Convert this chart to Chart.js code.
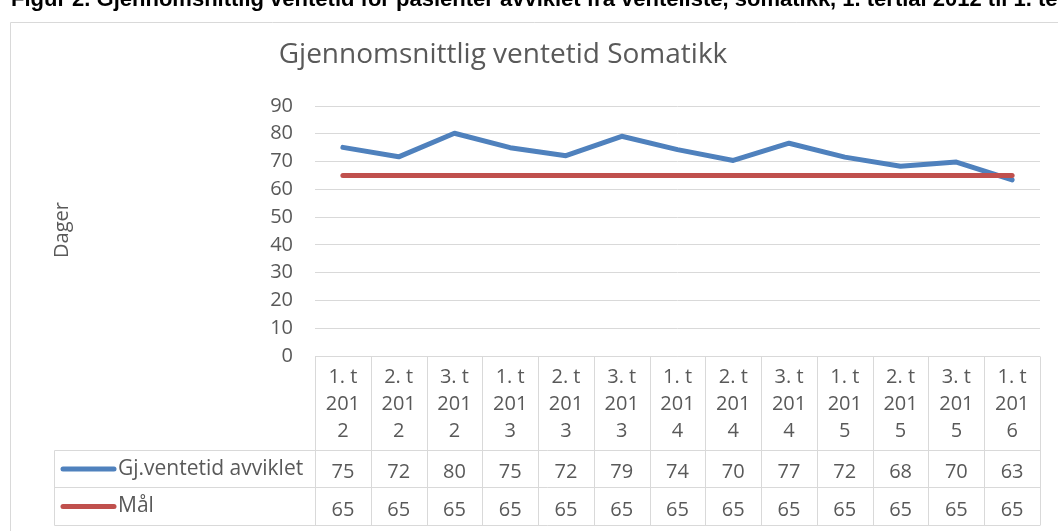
<!DOCTYPE html>
<html>
<head>
<meta charset="utf-8">
<script src="https://cdn.jsdelivr.net/npm/chart.js@4"></script>
<style>
  html, body { margin: 0; padding: 0; background: #fff; }
  #wrap { position: relative; width: 1058px; height: 531px; }
</style>
</head>
<body>
<div id="wrap"><canvas id="chart" width="1058" height="531"></canvas></div>
<script>
// chart data
const categories = ["1. t 2012", "2. t 2012", "3. t 2012", "1. t 2013", "2. t 2013", "3. t 2013",
  "1. t 2014", "2. t 2014", "3. t 2014", "1. t 2015", "2. t 2015", "3. t 2015", "1. t 2016"];
const ventetid = [75.1, 71.7, 80.2, 75.0, 72.1, 79.1, 74.3, 70.4, 76.6, 71.6, 68.3, 69.8, 63.4];
const maal = [65, 65, 65, 65, 65, 65, 65, 65, 65, 65, 65, 65, 65];
const seriesNames = ["Gj.ventetid avviklet", "Mål"];
const yMin = 0, yMax = 90, yStep = 10;

const caption = "Figur 2. Gjennomsnittlig ventetid for pasienter avviklet fra venteliste, somatikk, 1. tertial 2012 til 1. tertial 2016";
const title = "Gjennomsnittlig ventetid Somatikk";
const yTitle = "Dager";

const BLUE = "#4f81bd";
const RED = "#c0504d";
const GRID = "#d9d9d9";
const TEXT = "#595959";
const FONT = '"Open Sans", "Noto Sans", sans-serif';

// splits "1. t 2012" the way the narrow table cells wrap it
function wrapLabel(label) {
  const i = label.lastIndexOf(" ");
  const year = label.slice(i + 1);
  return [label.slice(0, i), year.slice(0, 3), year.slice(3)];
}

const frame = {
  id: "frame",
  beforeDraw(chart) {
    const ctx = chart.ctx;
    ctx.save();
    // outer chart border (cut by the page edge)
    ctx.strokeStyle = GRID;
    ctx.lineWidth = 1;
    ctx.beginPath();
    ctx.moveTo(10.5, 531);
    ctx.lineTo(10.5, 22.5);
    ctx.lineTo(1058, 22.5);
    ctx.stroke();

    // caption above the chart, mostly cut off
    ctx.fillStyle = "#000";
    ctx.font = 'bold 22px "Liberation Sans", Arial, sans-serif';
    ctx.textAlign = "left";
    ctx.textBaseline = "alphabetic";
    ctx.fillText(caption, 11, 6);

    // title
    ctx.fillStyle = TEXT;
    ctx.font = "28px " + FONT;
    ctx.textAlign = "center";
    ctx.fillText(title, 503, 63);

    // y axis title
    ctx.font = "20px " + FONT;
    ctx.translate(68, 230);
    ctx.rotate(-Math.PI / 2);
    ctx.textAlign = "center";
    ctx.fillText(yTitle, 0, 0);
    ctx.restore();
  }
};

const dataTable = {
  id: "dataTable",
  afterDraw(chart) {
    const ctx = chart.ctx;
    const area = chart.chartArea;
    const xs = chart.scales.x;
    const n = categories.length;
    const colW = (area.right - area.left) / n;
    const top = Math.round(area.bottom) + 0.5;
    const rowTops = [450.5, 487.5, 525.5];
    const legendLeft = 54.5;
    const rows = [ventetid, maal];
    const colors = [BLUE, RED];

    ctx.save();
    ctx.strokeStyle = GRID;
    ctx.lineWidth = 1;
    ctx.beginPath();
    // horizontal lines
    ctx.moveTo(area.left, top); ctx.lineTo(area.right, top);
    rowTops.forEach(y => { ctx.moveTo(legendLeft, y); ctx.lineTo(area.right, y); });
    // vertical lines
    for (let i = 0; i <= n; i++) {
      const x = Math.round(area.left + i * colW) + 0.5;
      ctx.moveTo(x, top); ctx.lineTo(x, rowTops[2]);
    }
    ctx.moveTo(legendLeft, rowTops[0]); ctx.lineTo(legendLeft, rowTops[2]);
    ctx.stroke();

    ctx.fillStyle = TEXT;
    ctx.font = "20px " + FONT;
    ctx.textAlign = "center";
    ctx.textBaseline = "alphabetic";
    const headBase = [383, 410, 437];
    categories.forEach((c, i) => {
      const cx = xs.getPixelForValue(i);
      wrapLabel(c).forEach((line, k) => ctx.fillText(line, cx, headBase[k]));
      rows.forEach((r, k) => {
        ctx.fillText(String(Math.round(r[i])), cx, k === 0 ? 478 : 516);
      });
    });

    // legend keys in the row headers
    ctx.font = "21px " + FONT;
    rows.forEach((r, k) => {
      const cy = (rowTops[k] + rowTops[k + 1]) / 2;
      ctx.strokeStyle = colors[k];
      ctx.lineWidth = 5;
      ctx.lineCap = "round";
      ctx.beginPath();
      ctx.moveTo(63, cy); ctx.lineTo(114, cy);
      ctx.stroke();
      ctx.textAlign = "left";
      ctx.textBaseline = "middle";
      ctx.fillText(seriesNames[k], 118, cy);
    });
    ctx.restore();
  }
};

const ctx = document.getElementById("chart").getContext("2d");
new Chart(ctx, {
  type: "line",
  data: {
    labels: categories,
    datasets: [
      {
        label: seriesNames[0],
        data: ventetid,
        borderColor: BLUE,
        borderWidth: 5,
        pointRadius: 0,
        tension: 0,
        borderJoinStyle: "round",
        borderCapStyle: "round",
        order: 1
      },
      {
        label: seriesNames[1],
        data: maal,
        borderColor: RED,
        borderWidth: 5,
        pointRadius: 0,
        tension: 0,
        borderJoinStyle: "round",
        borderCapStyle: "round",
        order: 0
      }
    ]
  },
  options: {
    responsive: false,
    animation: false,
    events: [],
    layout: { padding: { left: 0, right: 18, top: 106, bottom: 175 } },
    plugins: {
      legend: { display: false },
      tooltip: { enabled: false },
      title: { display: false }
    },
    scales: {
      x: {
        type: "category",
        offset: true,
        display: false
      },
      y: {
        min: yMin,
        max: yMax,
        afterFit(scale) { scale.width = 315; },
        border: { display: false },
        grid: { color: GRID, lineWidth: 1, drawTicks: false },
        ticks: {
          stepSize: yStep,
          padding: 22,
          color: TEXT,
          font: { family: FONT, size: 20 }
        }
      }
    }
  },
  plugins: [frame, dataTable]
});
</script>
</body>
</html>
